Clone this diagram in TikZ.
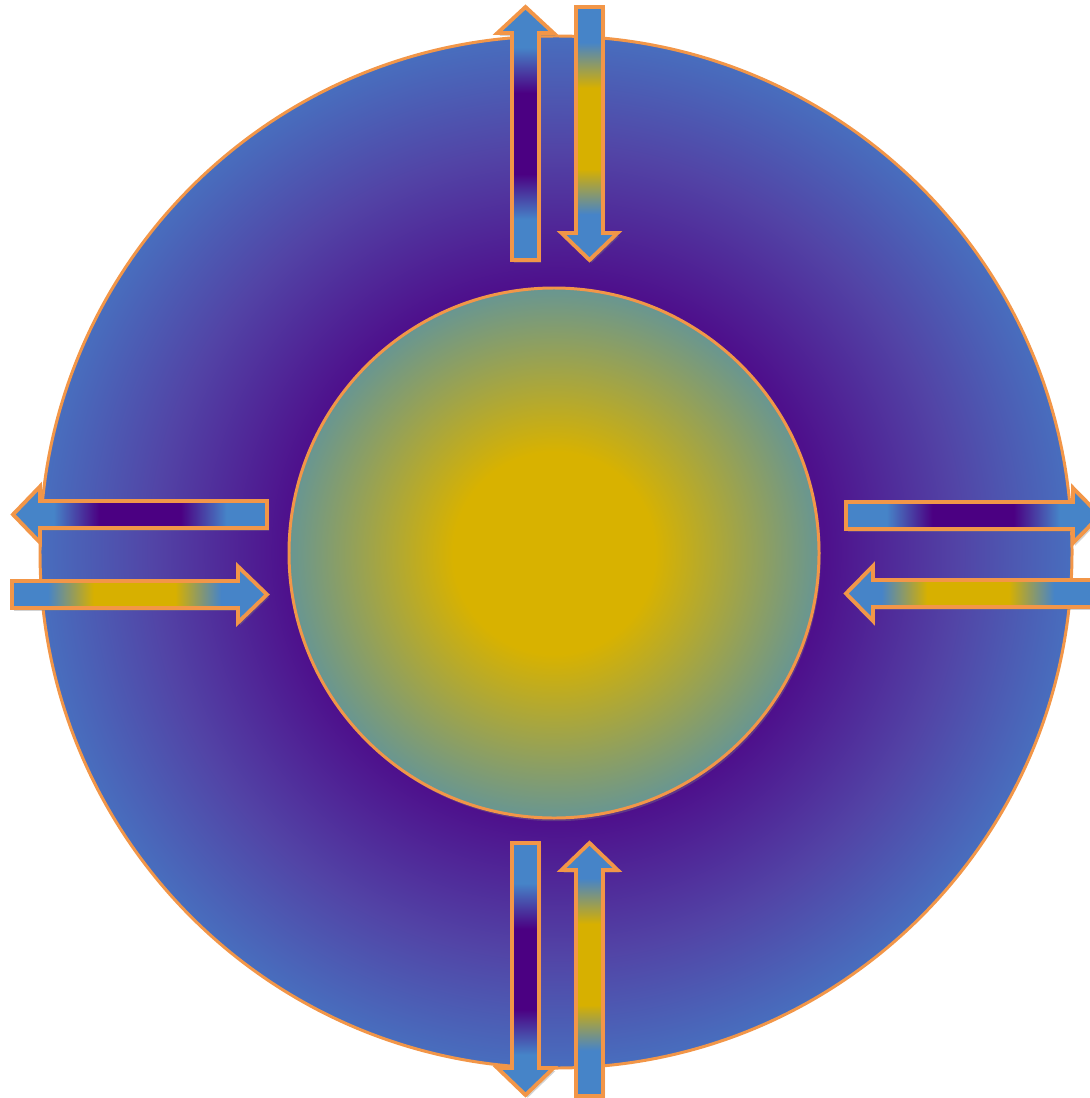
\documentclass[tikz,border=0pt]{standalone}
\usetikzlibrary{shadows}
% 颜色
\definecolor{ringblue}{RGB}{72,110,190}
\definecolor{ringlav}{RGB}{82,68,166}
\definecolor{ringpurple}{RGB}{78,16,140}
\definecolor{coreyellow}{RGB}{216,178,0}
\definecolor{coreteal}{RGB}{104,150,146}
\definecolor{barblue}{RGB}{70,132,200}
\definecolor{barpurple}{RGB}{75,0,130}
\definecolor{baryellow}{RGB}{215,176,0}
\definecolor{edgeorange}{RGB}{242,150,72}
% 渐变
\pgfdeclareradialshading{ringshade}{\pgfpoint{0bp}{0bp}}{color(0bp)=(ringpurple); color(13bp)=(ringpurple); color(19.5bp)=(ringlav); color(25bp)=(ringblue); color(50bp)=(ringblue)}
\pgfdeclareradialshading{coreshade}{\pgfpoint{0bp}{0bp}}{color(0bp)=(coreyellow); color(9.5bp)=(coreyellow); color(25bp)=(coreteal); color(50bp)=(coreteal)}
\pgfdeclarehorizontalshading{hpurple}{100bp}{color(0bp)=(barblue); color(33bp)=(barblue); color(42bp)=(barpurple); color(58bp)=(barpurple); color(67bp)=(barblue); color(100bp)=(barblue)}
\pgfdeclarehorizontalshading{hyellow}{100bp}{color(0bp)=(barblue); color(32bp)=(barblue); color(41bp)=(baryellow); color(57bp)=(baryellow); color(66bp)=(barblue); color(100bp)=(barblue)}
\pgfdeclareverticalshading{vpurple}{100bp}{color(0bp)=(barblue); color(33bp)=(barblue); color(42bp)=(barpurple); color(58bp)=(barpurple); color(67bp)=(barblue); color(100bp)=(barblue)}
\pgfdeclareverticalshading{vyellow}{100bp}{color(0bp)=(barblue); color(34bp)=(barblue); color(43bp)=(baryellow); color(59bp)=(baryellow); color(68bp)=(barblue); color(100bp)=(barblue)}
\tikzset{
  flowarrow/.style={draw=edgeorange, line width=2.2pt, line join=miter,
    drop shadow={opacity=0.35, shadow xshift=1.2pt, shadow yshift=-1.6pt}},
  disc/.style={draw=edgeorange, line width=1.7pt}
}
\begin{document}
\begin{tikzpicture}[x=0.02cm,y=-0.02cm]
  \useasboundingbox (0,0) rectangle (1089,1098);
  % 外圈
  \coordinate (O) at (556,552);
  \path[disc, shading=ringshade] (O) circle (516);
  % 内圆
  \coordinate (C) at (554,553);
  \path[disc, shading=coreshade,
    drop shadow={opacity=0.35, shadow xshift=1pt, shadow yshift=-1.8pt}] (C) circle (265);
  % 上方箭头
  \path[flowarrow, shading=vpurple] (512,260) -- (512,33) -- (497.5,33) -- (525.5,7)
    -- (553.5,33) -- (539,33) -- (539,260) -- cycle;
  \path[flowarrow, shading=vyellow] (576,7) -- (576,233) -- (561.5,233) -- (589.5,260)
    -- (617.5,233) -- (603,233) -- (603,7) -- cycle;
  % 下方箭头
  \path[flowarrow, shading=vpurple] (512,843) -- (512,1068) -- (497.5,1068) -- (525.5,1095)
    -- (553.5,1068) -- (539,1068) -- (539,843) -- cycle;
  \path[flowarrow, shading=vyellow] (576,1096) -- (576,870) -- (561.5,870) -- (589.5,843)
    -- (617.5,870) -- (603,870) -- (603,1096) -- cycle;
  % 左侧箭头
  \path[flowarrow, shading=hpurple] (267,501) -- (40,501) -- (40,486.5) -- (13,514.5)
    -- (40,542.5) -- (40,528) -- (267,528) -- cycle;
  \path[flowarrow, shading=hyellow] (12,581) -- (238,581) -- (238,566.5) -- (267,594.5)
    -- (238,622.5) -- (238,608) -- (12,608) -- cycle;
  % 右侧箭头
  \path[flowarrow, shading=hpurple] (846,502) -- (1073,502) -- (1073,488) -- (1100,515.5)
    -- (1073,543) -- (1073,529) -- (846,529) -- cycle;
  \path[flowarrow, shading=hyellow] (1100,580) -- (873,580) -- (873,566) -- (846,593.5)
    -- (873,621) -- (873,607) -- (1100,607) -- cycle;
\end{tikzpicture}
\end{document}
